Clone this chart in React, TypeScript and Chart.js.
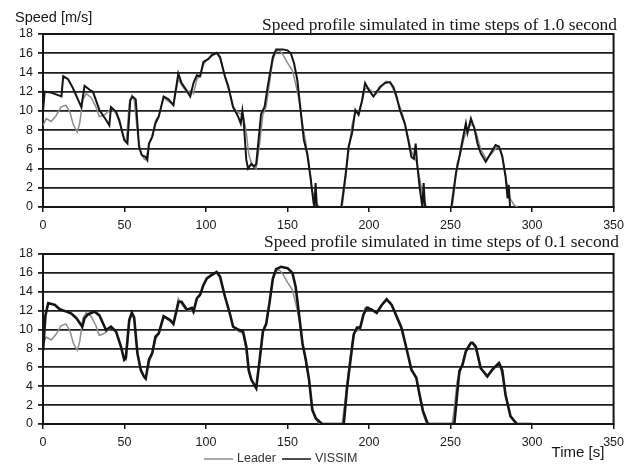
import React, { useEffect, useRef } from "react";
import { Chart, registerables } from "chart.js";

Chart.register(...registerables);

// ---- axis ticks ----
const xTickValues = [0, 50, 100, 150, 200, 250, 300, 350];
const yTickValues = [0, 2, 4, 6, 8, 10, 12, 14, 16, 18];

// ---- texts ----
const yAxisTitle = "Speed [m/s]";
const xAxisTitle = "Time [s]";
const topTitle = "Speed profile simulated in time steps of 1.0 second";
const bottomTitle = "Speed profile simulated in time steps of 0.1 second";
const leaderLabel = "Leader";
const vissimLabel = "VISSIM";

// ---- series: [time s, speed m/s] ----
const leader: [number, number][] = [
  [0, 8.5], [2, 9.2], [5, 8.9], [8, 9.5], [11, 10.4], [14, 10.6], [16.5, 9.9], [18.5, 8.6],
  [21, 7.8], [22.5, 8.7], [24.5, 11.2], [26.5, 11.8], [29.5, 11.4], [32.5, 10.4], [34.5, 9.4],
  [36.5, 9.5], [38.5, 9.7], [41.7, 10.2], [44.8, 9.8], [47.8, 8.3], [49.8, 7.0], [51, 6.8],
  [53, 10.8], [54.5, 11.6], [56, 11.1], [58, 7.6], [60, 5.6], [62, 5.0], [63, 4.9], [65, 6.5],
  [67, 7.4], [69, 9.0], [71, 9.5], [74, 11.4], [76, 11.1], [78, 10.9], [80, 10.6], [83, 13.3],
  [85, 12.7], [88, 12.0], [91, 12.1], [92.3, 11.8], [94.4, 13.3], [96.4, 13.6], [98.4, 14.8],
  [100.4, 15.3], [103.5, 15.7], [106.5, 16.0], [108.6, 15.5], [111.6, 13.5], [114.6, 11.8],
  [116.6, 10.4], [119.7, 9.8], [122.7, 9.6], [124.7, 7.8], [126.2, 5.5], [127.8, 4.6],
  [129.8, 4.2], [130.8, 4.0], [132.9, 6.6], [134.9, 9.6], [136.9, 10.5], [138.9, 12.8],
  [141, 15.3], [143, 16.2], [145, 16.3], [147, 15.9], [150, 15.0], [153, 14.2], [155, 12.8],
  [157, 11.2], [159, 8.8], [161, 6.9], [163, 4.8], [165, 1.8], [166.5, 0.8], [168.5, 0.2],
  [170, 0], [183.5, 0], [185.5, 2.8], [187.5, 5.8], [189.5, 8.5], [191.5, 9.8], [193.5, 9.9],
  [195.5, 10.8], [197.5, 12.3], [199.5, 12.4], [202, 12.0], [204.5, 11.8], [207.5, 12.5],
  [210.5, 13.1], [213, 12.9], [215, 12.2], [217, 11.2], [220, 10.0], [223, 8.0], [226, 5.8],
  [229, 4.8], [231, 3.0], [233, 1.2], [235, 0.1], [236, 0], [251, 0], [252.5, 2.0], [254, 4.5],
  [256, 5.5], [258, 7.0], [260, 8.0], [262.5, 8.6], [264, 8.4], [266, 7.6], [268.5, 6.0],
  [272, 5.0], [275.5, 5.6], [278.5, 6.3], [280.5, 6.0], [282, 5.0], [284, 3.0], [286.5, 0.9],
  [289, 0.2], [291, 0],
];

const vissimStep10: [number, number][] = [
  [0, 9.9], [1, 12.0], [5, 11.9], [11.3, 11.5], [12.4, 13.6], [15.4, 13.3], [18.4, 12.35],
  [23.5, 10.4], [25.5, 12.6], [28.6, 12.2], [30.6, 12.0], [34.6, 10.1], [38.7, 9.05],
  [40.7, 8.5], [41.7, 10.4], [44.8, 9.9], [46.8, 9.05], [49.8, 7.0], [51.8, 6.6], [53.5, 11.1],
  [54.9, 11.5], [56.9, 11.2], [58.9, 6.3], [60.6, 5.4], [63, 5.2], [64, 4.9], [65, 6.6],
  [67, 7.3], [69, 8.7], [71, 9.4], [74, 11.5], [77, 11.2], [80, 10.6], [83, 13.9], [85, 12.9],
  [87, 12.4], [90.3, 11.5], [92.3, 12.9], [94.4, 13.7], [96.4, 13.6], [98.4, 15.1],
  [101.5, 15.4], [103.5, 15.8], [106.5, 16.05], [108.6, 15.6], [111.6, 13.6], [113.6, 12.6],
  [116.6, 10.4], [119.7, 9.4], [121.3, 8.7], [122.3, 10.0], [123.2, 8.7], [124.7, 4.9],
  [125.8, 4.0], [127.8, 4.5], [129.4, 4.2], [130.8, 4.5], [133.8, 9.7], [135.9, 10.4],
  [137.9, 12.6], [141, 15.6], [143, 16.4], [147, 16.4], [150, 16.3], [152, 16.0], [154, 14.95],
  [156, 13.2], [158, 10.1], [160, 7.0], [162, 5.6], [164, 3.2], [166, 0.4], [166.5, 0],
  [167.2, 2.5], [168, 0], [183, 0], [185.5, 3.2], [187.5, 6.3], [189.6, 7.7], [191.6, 10.1],
  [193.6, 9.6], [195.6, 11.0], [197.6, 12.9], [199.7, 12.2], [202.7, 11.5], [206.7, 12.5],
  [209.8, 12.9], [212.8, 13.0], [214.9, 12.5], [216.9, 11.5], [218.9, 10.1], [221.9, 8.7],
  [224, 7.0], [226, 5.2], [227.5, 5.0], [228.6, 6.6], [229.4, 4.7], [231, 2.1], [232.7, 0],
  [233.5, 2.5], [234.3, 0], [250.5, 0], [253.3, 3.5], [255.4, 5.2], [257.4, 7.0], [259.4, 8.7],
  [260.4, 7.7], [262.5, 9.2], [263.5, 8.7], [264.5, 8.3], [266.5, 6.6], [268.5, 5.6],
  [271.6, 4.7], [274.6, 5.6], [277.6, 6.45], [279.7, 6.3], [281.7, 5.3], [283.7, 3.2],
  [285, 0.9], [285.7, 2.3], [286.5, 0],
];

const vissimStep01: [number, number][] = [
  [0, 7.7], [1.5, 11.5], [3.2, 12.8], [7.3, 12.6], [10.3, 12.15], [14.4, 11.9], [17.4, 11.7],
  [20.5, 11.2], [24.1, 10.3], [25.5, 11.2], [27.5, 11.6], [31.6, 11.9], [34.6, 11.5],
  [36.7, 10.7], [38.7, 9.95], [41.7, 10.3], [44.8, 9.8], [47.8, 8.2], [49.8, 6.8], [50.8, 7.0],
  [52.9, 11.0], [54.5, 11.8], [55.9, 11.3], [57.9, 7.5], [60, 5.7], [62, 5.0], [63, 4.8],
  [65, 6.8], [67, 7.5], [69, 9.25], [71, 9.6], [74, 11.4], [76, 11.2], [78, 11.0], [80, 10.6],
  [83.2, 12.95], [85, 12.95], [88.3, 12.1], [91.3, 12.3], [92.3, 11.9], [94.4, 13.3],
  [96.4, 13.7], [98.4, 14.7], [100.4, 15.4], [103.5, 15.8], [106.5, 16.1], [108.6, 15.6],
  [111.6, 13.5], [114.6, 11.7], [116.6, 10.3], [119.7, 10.0], [122.7, 9.8], [124.7, 8.2],
  [126.2, 5.7], [127.8, 4.7], [129.8, 4.1], [130.8, 3.8], [132.9, 6.8], [134.9, 9.8],
  [136.9, 10.6], [138.9, 12.8], [141, 15.4], [143, 16.4], [146, 16.65], [150, 16.5],
  [153, 16.0], [155, 14.5], [157.2, 11.4], [159.2, 8.5], [161.2, 6.8], [163.2, 4.7],
  [165.2, 1.5], [167.3, 0.6], [169.3, 0.3], [171.3, 0], [184.5, 0], [186.5, 3.8], [188.5, 6.6],
  [190.6, 9.5], [192.6, 10.2], [194.6, 10.2], [196.6, 11.6], [198.7, 12.3], [201.7, 12.1],
  [204.7, 11.75], [207.8, 12.6], [210.8, 13.2], [213.9, 12.6], [216.9, 11.4], [219.9, 10.2],
  [222.9, 8.05], [226, 5.75], [229, 4.9], [231, 3.1], [233.1, 1.35], [236.1, 0], [252.3, 0],
  [255.4, 5.6], [257.4, 6.3], [259.4, 7.7], [262.5, 8.6], [263.5, 8.6], [265.5, 8.2],
  [268.5, 5.9], [272.6, 5.05], [275.6, 5.75], [279.7, 6.45], [281.7, 5.7], [283.7, 3.1],
  [286.8, 0.8], [290.8, 0], [300, 0],
];

const INK = "#151515";
const GREY = "#8c8c8c";
const SANS = "'Liberation Sans', Arial, sans-serif";
const SERIF = "'Liberation Serif', 'Times New Roman', serif";

type TextItem = {
  text: string;
  x: number;
  y: number;
  font: string;
  align: CanvasTextAlign;
};

const decorPlugin = {
  id: "decor",
  beforeDatasetsDraw(chart: any) {
    const { ctx, chartArea: a } = chart;
    ctx.save();
    ctx.strokeStyle = INK;
    ctx.lineWidth = 2;
    ctx.strokeRect(a.left, a.top, a.right - a.left, a.bottom - a.top);
    ctx.restore();
  },
  afterDraw(chart: any, _args: any, opts: any) {
    const { ctx } = chart;
    ctx.save();
    ctx.fillStyle = INK;
    ctx.textBaseline = "alphabetic";
    const texts: TextItem[] = opts.texts || [];
    texts.forEach((t) => {
      ctx.font = t.font;
      ctx.textAlign = t.align;
      ctx.fillText(t.text, t.x, t.y);
    });
    if (opts.legend) {
      const lg = opts.legend;
      ctx.font = lg.font;
      ctx.textAlign = "left";
      ctx.textBaseline = "middle";
      chart.data.datasets.forEach((ds: any, i: number) => {
        const x0 = lg.xs[i];
        ctx.strokeStyle = ds.borderColor;
        ctx.lineWidth = 1.5;
        ctx.beginPath();
        ctx.moveTo(x0, lg.y);
        ctx.lineTo(x0 + lg.lineLen, lg.y);
        ctx.stroke();
        ctx.fillStyle = "#333";
        ctx.fillText(ds.label, x0 + lg.lineLen + 4, lg.y);
      });
    }
    ctx.restore();
  },
};

function makeConfig(
  vissim: [number, number][],
  vissimWidth: number,
  padTop: number,
  padRight: number,
  xAxisHeight: number,
  texts: TextItem[],
  legend: any
) {
  const tickFont = { family: SANS, size: 12.5 };
  return {
    type: "line" as const,
    data: {
      datasets: [
        {
          label: leaderLabel,
          data: leader.map(([x, y]) => ({ x, y })),
          borderColor: GREY,
          borderWidth: 1.5,
          pointRadius: 0,
          tension: 0,
          order: 2,
        },
        {
          label: vissimLabel,
          data: vissim.map(([x, y]) => ({ x, y })),
          borderColor: INK,
          borderWidth: vissimWidth,
          pointRadius: 0,
          tension: 0,
          order: 1,
        },
      ],
    },
    options: {
      animation: false as const,
      responsive: false,
      events: [],
      layout: { padding: { top: padTop, right: padRight, left: 0, bottom: 0 } },
      plugins: {
        legend: { display: false },
        tooltip: { enabled: false },
        decor: { texts, legend },
      },
      scales: {
        x: {
          type: "linear" as const,
          min: 0,
          max: 350,
          afterBuildTicks: (s: any) => {
            s.ticks = xTickValues.map((v) => ({ value: v }));
          },
          afterFit: (s: any) => {
            s.height = xAxisHeight;
          },
          grid: { drawOnChartArea: false, drawTicks: true, tickLength: 5, color: INK, lineWidth: 1.5 },
          border: { display: true, color: INK, width: 2 },
          ticks: { font: tickFont, color: "#1a1a1a", padding: 6, maxRotation: 0, autoSkip: false },
        },
        y: {
          type: "linear" as const,
          min: 0,
          max: 18,
          afterBuildTicks: (s: any) => {
            s.ticks = yTickValues.map((v) => ({ value: v }));
          },
          afterFit: (s: any) => {
            s.width = 43;
          },
          grid: { color: "#1e1e1e", lineWidth: 1.8, tickLength: 5, drawTicks: true },
          border: { display: true, color: INK, width: 2 },
          ticks: { font: tickFont, color: "#1a1a1a", padding: 5, autoSkip: false },
        },
      },
    },
    plugins: [decorPlugin],
  };
}

export default function App() {
  const topRef = useRef<HTMLCanvasElement | null>(null);
  const bottomRef = useRef<HTMLCanvasElement | null>(null);

  useEffect(() => {
    const topChart = new Chart(
      topRef.current as HTMLCanvasElement,
      makeConfig(
        vissimStep10,
        2,
        34,
        13,
        28,
        [
          { text: yAxisTitle, x: 15, y: 22, font: `14.5px ${SANS}`, align: "left" },
          { text: topTitle, x: 617, y: 30, font: `17.4px ${SERIF}`, align: "right" },
        ],
        null
      ) as any
    );
    const bottomChart = new Chart(
      bottomRef.current as HTMLCanvasElement,
      makeConfig(
        vissimStep01,
        2.6,
        22,
        11,
        42,
        [
          { text: bottomTitle, x: 619, y: 15, font: `17.4px ${SERIF}`, align: "right" },
          { text: xAxisTitle, x: 578, y: 225, font: `15px ${SANS}`, align: "center" },
        ],
        { xs: [204, 282], y: 227, lineLen: 29, font: `12.5px ${SANS}` }
      ) as any
    );
    return () => {
      topChart.destroy();
      bottomChart.destroy();
    };
  }, []);

  return (
    <div
      style={{
        position: "fixed",
        left: 0,
        top: 0,
        width: 630,
        height: 466,
        overflow: "hidden",
        background: "#fff",
      }}
    >
      <canvas
        ref={topRef}
        width={630}
        height={235}
        style={{ position: "absolute", left: 0, top: 0, width: 630, height: 235 }}
      />
      <canvas
        ref={bottomRef}
        width={630}
        height={234}
        style={{ position: "absolute", left: 0, top: 232, width: 630, height: 234 }}
      />
    </div>
  );
}
